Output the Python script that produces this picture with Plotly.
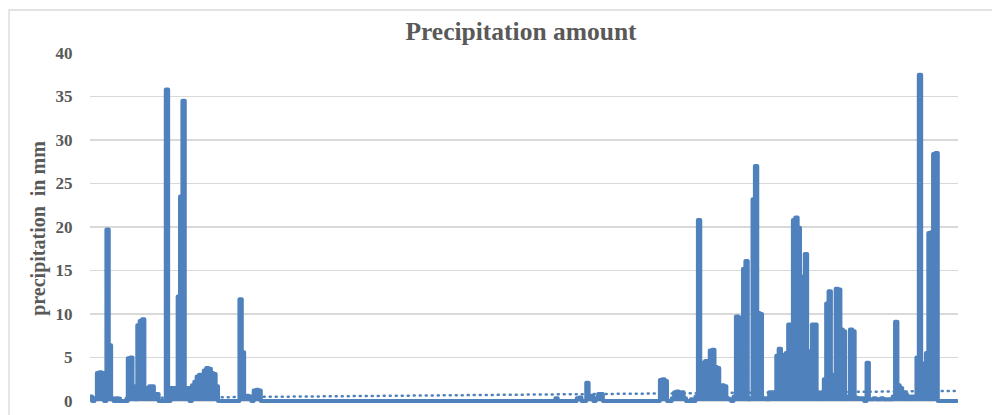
import plotly.graph_objects as go

# ---- data (day index -> precipitation in mm; other days 0) ----
n_days = 365
rain_days = [0, 2, 3, 4, 5, 7, 8, 9, 11, 16, 17, 18, 19, 20, 21, 22, 23, 24, 25, 26, 27, 28,
             32, 34, 35, 36, 37, 38, 39, 40, 41, 43, 44, 45, 46, 47, 48, 49, 50, 51, 52, 53,
             63, 64, 65, 66, 67, 69, 70, 71,
             196, 205, 206, 209, 210, 211, 213, 214, 215,
             240, 241, 242, 245, 246, 247, 248, 249, 250, 253, 255,
             256, 257, 258, 259, 260, 261, 262, 263, 264, 265, 266, 267, 268, 269, 271, 272,
             273, 274, 275, 276, 277, 278, 279, 280, 281, 282, 283, 284, 285, 286, 287, 288,
             289, 290, 291, 292, 293, 294, 295, 296, 297, 298, 299, 300, 301, 302, 303, 304,
             305, 306, 307, 308, 309, 310, 311, 312, 313, 314, 315, 316, 317, 318, 319, 320,
             321, 322, 323, 324, 325, 327, 328, 329, 330, 331, 332, 333, 334, 335, 336, 337,
             338, 339, 340, 341, 342, 343, 344, 345, 346, 347, 348, 349, 350, 351, 352, 353,
             354, 355, 356]
rain_mm = [0.5, 0.3, 3.2, 3.3, 3.2, 19.7, 6.4, 0.3, 0.3, 4.9, 5.0, 1.7, 0.2, 8.7, 9.2, 9.4, 1.5, 0.3, 1.7, 1.7, 0.8, 0.8,
           35.8, 1.5, 1.5, 1.5, 12.0, 23.5, 34.5, 1.5, 1.5, 1.8, 2.2, 2.8, 3.0, 2.6, 3.5, 3.8, 3.7, 3.2, 3.1, 1.7,
           11.7, 5.6, 0.6, 0.6, 0.5, 1.2, 1.3, 1.2,
           0.3, 0.3, 0.4, 2.1, 0.3, 0.6, 0.3, 0.8, 0.8,
           2.4, 2.5, 2.3, 0.3, 1.0, 1.1, 0.8, 1.0, 0.3, 0.2, 0.5,
           20.8, 4.2, 4.4, 4.6, 4.5, 5.8, 5.9, 3.9, 3.8, 1.8, 1.8, 1.7, 0.3, 0.2, 0.5, 9.7,
           9.6, 0.3, 15.2, 16.1, 0.2, 0.3, 23.2, 27.0, 10.1, 10.0, 0.3, 0.3, 0.2, 1.0, 1.0, 0.5,
           5.2, 6.0, 4.0, 5.3, 5.5, 8.8, 8.7, 20.8, 21.1, 19.9, 14.3, 4.4, 16.9, 3.8, 5.7, 8.8,
           8.8, 1.0, 0.3, 1.0, 2.5, 11.2, 12.6, 3.0, 3.0, 12.9, 12.8, 8.2, 8.0, 0.3, 0.5, 8.2,
           8.0, 0.4, 0.3, 0.3, 0.3, 4.4, 0.2, 0.2, 0.3, 0.2, 0.2, 0.3, 0.2, 0.2, 0.2, 0.2,
           0.5, 9.1, 1.8, 1.5, 1.0, 0.8, 0.3, 0.5, 0.5, 0.5, 5.0, 37.5, 4.2, 4.3, 5.5, 19.3,
           19.4, 28.4, 28.5]

trend_days = [0, 365]
trend_mm = [0.3, 1.15]

y_ticks = [0, 5, 10, 15, 20, 25, 30, 35, 40]

days = list(range(n_days + 1))
precip = [0.0] * (n_days + 1)
for d, v in zip(rain_days, rain_mm):
    precip[d] = v

BLUE = "#4F81BD"
GREY = "#595959"
GRID = "#D9D9D9"
SERIF = "Liberation Serif, Times New Roman, serif"

fig = go.Figure()
fig.add_trace(go.Scatter(x=trend_days, y=trend_mm, mode="lines",
                         line=dict(color=BLUE, width=2.5, dash="1px,5px"),
                         hoverinfo="skip", showlegend=False))
fig.add_trace(go.Scatter(x=days, y=precip, mode="lines",
                         line=dict(color=BLUE, width=4, shape="hv"),
                         fill="tozeroy", fillcolor=BLUE,
                         hoverinfo="skip", showlegend=False))

W, H = 992, 415
L, R, T, B = 90, 34, 53, 11
pw, ph = W - L - R, H - T - B

def px_x(p):
    return (p - L) / pw

def px_y(p):
    return (H - B - p) / ph

fig.update_layout(
    width=W, height=H,
    margin=dict(l=L, r=R, t=T, b=B, pad=0, autoexpand=False),
    paper_bgcolor="white", plot_bgcolor="white",
    title=dict(text="<b>Precipitation amount</b>", x=(521 - L) / pw, xref="paper", xanchor="center",
               y=1 - 31 / H, yref="container", yanchor="middle", automargin=False,
               font=dict(family=SERIF, size=25.5, color=GREY)),
    xaxis=dict(range=[0.1, 365.5], showgrid=False, zeroline=False, showticklabels=False,
               showline=False, ticks="", automargin=False),
    yaxis=dict(range=[-0.35, 40], tickvals=y_ticks, ticktext=[f"<b>{v}</b>" for v in y_ticks],
               showgrid=True, gridcolor=GRID, gridwidth=1.3, zeroline=False, showline=False,
               ticks="outside", ticklen=13, tickcolor="rgba(0,0,0,0)", automargin=False,
               tickfont=dict(family=SERIF, size=17, color=GREY),
               title=dict(text="<b>precipitation  in mm</b>", standoff=4,
                          font=dict(family=SERIF, size=20, color=GREY))),
    shapes=[dict(type="rect", xref="paper", yref="paper",
                 x0=px_x(9), x1=px_x(1005), y0=px_y(440), y1=px_y(10),
                 line=dict(color=GRID, width=1.3), fillcolor="rgba(0,0,0,0)", layer="below")],
)

post = ("document.body.style.margin='0';document.body.style.overflow='hidden';"
        "document.querySelectorAll('.js-line').forEach(function(p){"
        "p.style.strokeLinejoin='round';p.style.strokeLinecap='round';});")
fig.write_html("out.html", post_script=post, config={"displayModeBar": False, "staticPlot": True})
